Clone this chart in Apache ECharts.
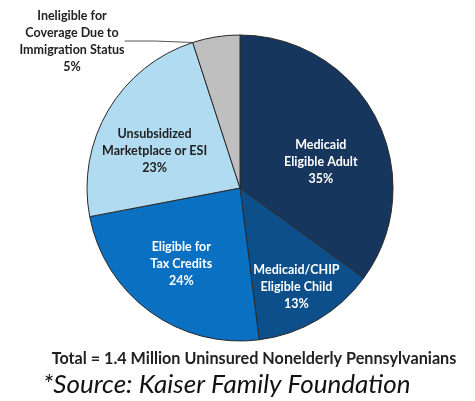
<!DOCTYPE html>
<html lang="en">
<head>
    <meta charset="UTF-8">
    <title>Uninsured Nonelderly Pennsylvanians</title>
    <style>
        html, body { margin: 0; padding: 0; background: #fff; }
    </style>
</head>
<body>
<div id="main" style="width:475px;height:401px;"></div>
<script src="https://cdn.jsdelivr.net/npm/echarts@6/dist/echarts.min.js"></script>
<script>
    // data
    var names = [
        'Medicaid\nEligible Adult',
        'Medicaid/CHIP\nEligible Child',
        'Eligible for\nTax Credits',
        'Unsubsidized\nMarketplace or ESI',
        'Ineligible for\nCoverage Due to\nImmigration Status'
    ];
    var shares = [35, 13, 24, 23, 5];
    var colors = ['#17365d', '#0d4f8b', '#0a70c2', '#b1dbf1', '#bfbfbf'];
    var textColors = ['#fff', '#fff', '#fff', '#222', '#222'];
    // nudge of each inside label from its default spot
    var labelShift = [[10, 10], [16, 31], [-12, 12], [-17, 3], [0, 0]];

    var pieData = [];
    for (var i = 0; i < names.length; i++) {
        pieData.push({
            name: names[i],
            value: shares[i],
            itemStyle: { color: colors[i] },
            label: { color: textColors[i], offset: labelShift[i] },
            labelLine: { show: i === 4 }
        });
    }

    var myChart = echarts.init(document.getElementById('main'));
    var option = {
        backgroundColor: '#fff',
        animation: false,
        title: [
            {
                text: 'Total = 1.4 Million Uninsured Nonelderly Pennsylvanians',
                left: 249, top: 346, textAlign: 'center',
                textStyle: { fontFamily: 'Lato', fontWeight: 'bold', fontSize: 16.2, color: '#222' }
            },
            {
                text: '*Source: Kaiser Family Foundation',
                left: 38, top: 367,
                textStyle: { fontFamily: 'Lato', fontStyle: 'italic', fontWeight: 'normal', fontSize: 26, color: '#111' }
            }
        ],
        series: [
            {
                type: 'pie',
                center: [240, 188],
                radius: 153,
                startAngle: 90,
                clockwise: true,
                data: pieData,
                itemStyle: { borderColor: '#2a2a2a', borderWidth: 1 },
                label: {
                    show: true,
                    position: 'inside',
                    fontFamily: 'Lato',
                    fontWeight: 'bold',
                    fontSize: 12.5,
                    lineHeight: 17,
                    align: 'center',
                    formatter: function (p) {
                        return p.name + '\n' + p.value + '%';
                    }
                },
                labelLine: {
                    lineStyle: { color: '#555', width: 1 }
                },
                labelLayout: function (p) {
                    if (p.dataIndex === 4) {
                        return {
                            x: 72, y: 41,
                            align: 'center',
                            verticalAlign: 'middle',
                            labelLinePoints: [[214, 38], [170, 36], [124, 34]]
                        };
                    }
                }
            }
        ]
    };
    myChart.setOption(option);
</script>
</body>
</html>
